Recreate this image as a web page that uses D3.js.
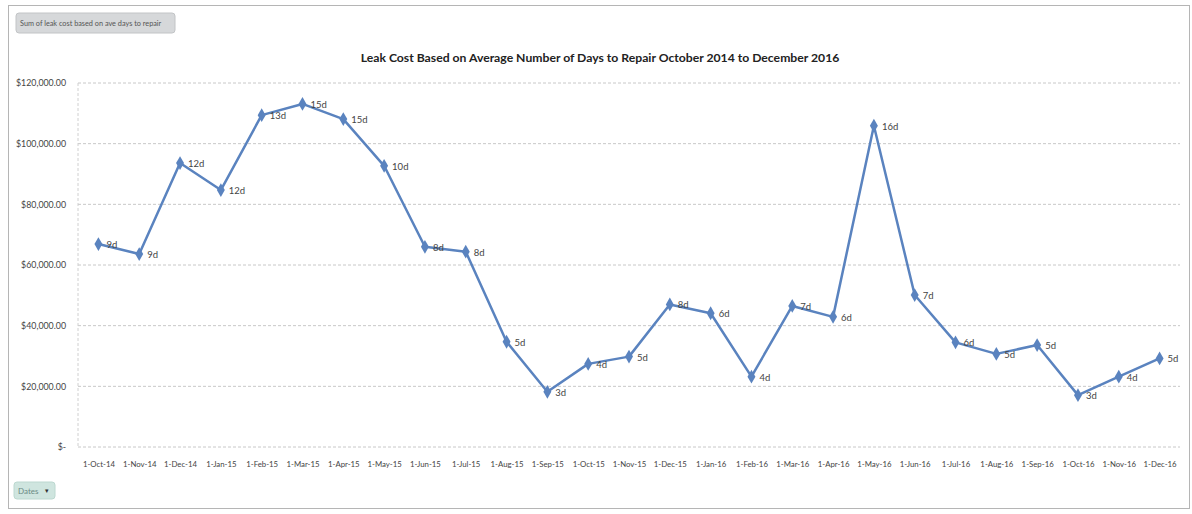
<!DOCTYPE html>
<html>
<head>
<meta charset="utf-8">
<script src="https://cdn.jsdelivr.net/npm/d3@7"></script>
<style>
  body { margin: 0; background: #fff; }
  svg { display: block; font-family: Lato, "Open Sans", sans-serif; }
</style>
</head>
<body>
<div id="chart"></div>
<script>
const months = ["1-Oct-14","1-Nov-14","1-Dec-14","1-Jan-15","1-Feb-15","1-Mar-15","1-Apr-15","1-May-15","1-Jun-15",
  "1-Jul-15","1-Aug-15","1-Sep-15","1-Oct-15","1-Nov-15","1-Dec-15","1-Jan-16","1-Feb-16","1-Mar-16","1-Apr-16",
  "1-May-16","1-Jun-16","1-Jul-16","1-Aug-16","1-Sep-16","1-Oct-16","1-Nov-16","1-Dec-16"]
const leakCost = [66900, 63600, 93600, 84700, 109400, 113100, 108100, 92700, 66000,
  64400, 34700, 18200, 27400, 29800, 47000, 44100, 23200, 46500, 42900,
  105900, 50100, 34500, 30700, 33600, 17100, 23200, 29200]
const aveDays = [9, 9, 12, 12, 13, 15, 15, 10, 8, 8, 5, 3, 4, 5, 8, 6, 4, 7, 6, 16, 7, 6, 5, 5, 3, 4, 5]
const yTicks = [0, 20000, 40000, 60000, 80000, 100000, 120000]

const W = 1192, H = 514
const MARGIN = { TOP: 83, BOTTOM: 67, LEFT: 78, RIGHT: 12 }

const svg = d3.select("#chart").append("svg")
  .attr("width", W).attr("height", H)

// outer frame
svg.append("rect")
  .attr("x", 8.5).attr("y", 5.5).attr("width", 1181).attr("height", 503)
  .attr("fill", "none").attr("stroke", "#b5b5b5")

// pivot field buttons
svg.append("rect")
  .attr("x", 16).attr("y", 13).attr("width", 159).attr("height", 20).attr("rx", 3)
  .attr("fill", "#d6d8da").attr("stroke", "#c2c4c6")
svg.append("text")
  .attr("x", 20).attr("y", 26)
  .attr("font-size", 7.3).attr("fill", "#555")
  .text("Sum of leak cost based on ave days to repair")

svg.append("rect")
  .attr("x", 14).attr("y", 482).attr("width", 41).attr("height", 17).attr("rx", 3)
  .attr("fill", "#cfe5df").attr("stroke", "#bcd8d0")
svg.append("text")
  .attr("x", 18).attr("y", 494).attr("font-size", 8).attr("fill", "#6a8a84").text("Dates")
svg.append("text")
  .attr("x", 45).attr("y", 493).attr("font-size", 7).attr("fill", "#333").text("▾")

// title
svg.append("text")
  .attr("x", 600).attr("y", 62).attr("text-anchor", "middle")
  .attr("font-size", 12.2).attr("font-weight", "bold").attr("fill", "#222")
  .text("Leak Cost Based on Average Number of Days to Repair October 2014 to December 2016")

const innerW = W - MARGIN.LEFT - MARGIN.RIGHT
const innerH = 447 - MARGIN.TOP
const g = svg.append("g").attr("transform", `translate(${MARGIN.LEFT}, ${MARGIN.TOP})`)

const x = d3.scalePoint().domain(months).range([0, innerW]).padding(0.5)
const y = d3.scaleLinear().domain([0, 120000]).range([innerH, 0])

// gridlines
g.append("g").selectAll("line").data(yTicks).join("line")
  .attr("x1", 0).attr("x2", innerW)
  .attr("y1", d => y(d)).attr("y2", d => y(d))
  .attr("stroke", "#c8c8c8").attr("stroke-dasharray", "3,2")
g.append("line")
  .attr("x1", 0).attr("x2", 0).attr("y1", 0).attr("y2", innerH)
  .attr("stroke", "#d0d0d0").attr("stroke-dasharray", "3,2")

// y axis
const fmt = d => d === 0 ? "$-" : "$" + d3.format(",.2f")(d)
const yAxis = g.append("g")
  .call(d3.axisLeft(y).tickValues(yTicks).tickFormat(fmt).tickSize(0).tickPadding(12))
yAxis.select(".domain").remove()
yAxis.selectAll("text").attr("font-size", 8.8).attr("fill", "#444")
  .attr("font-family", "Lato, sans-serif")

// x axis
const xAxis = g.append("g").attr("transform", `translate(0, ${innerH})`)
  .call(d3.axisBottom(x).tickSize(0).tickPadding(14))
xAxis.select(".domain").remove()
xAxis.selectAll("text").attr("font-size", 7.8).attr("fill", "#444")
  .attr("font-family", "Lato, sans-serif")

// line
const pts = months.map((m, i) => ({ m, v: leakCost[i], d: aveDays[i] }))
g.append("path").datum(pts)
  .attr("fill", "none").attr("stroke", "#5a83bf").attr("stroke-width", 2.5)
  .attr("stroke-linejoin", "round")
  .attr("d", d3.line().x(d => x(d.m)).y(d => y(d.v)))

g.selectAll(".mk").data(pts).join("path")
  .attr("class", "mk")
  .attr("transform", d => `translate(${x(d.m)}, ${y(d.v)})`)
  .attr("d", d3.symbol().type(d3.symbolDiamond).size(55))
  .attr("fill", "#5a83bf")

g.selectAll(".lbl").data(pts).join("text")
  .attr("class", "lbl")
  .attr("x", d => x(d.m) + 8).attr("y", d => y(d.v) + 4)
  .attr("font-size", 9.5).attr("fill", "#444")
  .text(d => d.d + "d")
</script>
</body>
</html>
